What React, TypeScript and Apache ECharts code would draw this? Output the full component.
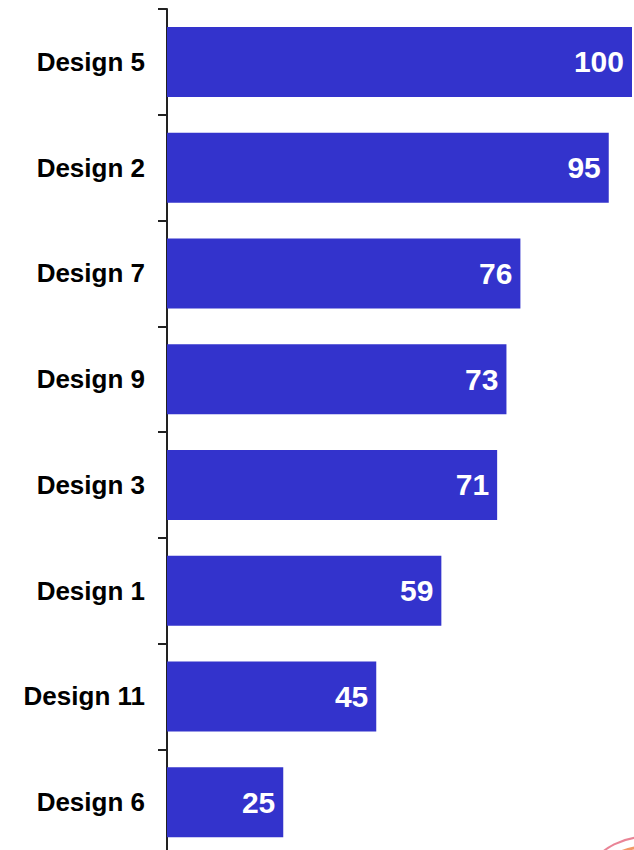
import React, { useEffect, useRef } from "react";
import * as echarts from "echarts";

const categories = ["Design 5", "Design 2", "Design 7", "Design 9", "Design 3", "Design 1", "Design 11", "Design 6"];
const values = [100, 95, 76, 73, 71, 59, 45, 25];

export default function App() {
  const ref = useRef<HTMLDivElement>(null);
  useEffect(() => {
    if (!ref.current) return;
    const chart = echarts.init(ref.current, null, { renderer: "svg" });
    chart.setOption({
      animation: false,
      grid: { left: 167, right: 2, top: 9, height: 846 },
      xAxis: { type: "value", min: 0, max: 100, show: false },
      yAxis: {
        type: "category",
        data: categories,
        inverse: true,
        axisLine: { show: true, lineStyle: { color: "#222", width: 2 } },
        axisTick: { show: true, alignWithLabel: false, length: 9, lineStyle: { color: "#222", width: 2 } },
        axisLabel: {
          margin: 22,
          color: "#000",
          fontWeight: "bold",
          fontSize: 26,
          fontFamily: "Liberation Sans, Arial, sans-serif",
        },
      },
      series: [
        {
          type: "bar",
          data: values,
          barWidth: 70,
          itemStyle: { color: "#3333CC" },
          label: {
            show: true,
            position: "insideRight",
            distance: 8,
            color: "#fff",
            fontWeight: "bold",
            fontSize: 30,
            fontFamily: "Liberation Sans, Arial, sans-serif",
          },
        },
      ],
      graphic: [
        {
          type: "arc",
          shape: { cx: 645, cy: 905, r: 68, startAngle: Math.PI * 1.2, endAngle: Math.PI * 1.5 },
          style: { stroke: "#e0506a", lineWidth: 2, fill: "none", opacity: 0.7 },
        },
        {
          type: "arc",
          shape: { cx: 645, cy: 905, r: 58, startAngle: Math.PI * 1.25, endAngle: Math.PI * 1.5 },
          style: { stroke: "#f08040", lineWidth: 3, fill: "none", opacity: 0.8 },
        },
      ],
    });
    return () => chart.dispose();
  }, []);
  return (
    <div style={{ position: "absolute", left: 0, top: 0, width: 634, height: 850, overflow: "hidden" }}>
      <div ref={ref} style={{ width: 634, height: 860 }} />
    </div>
  );
}
